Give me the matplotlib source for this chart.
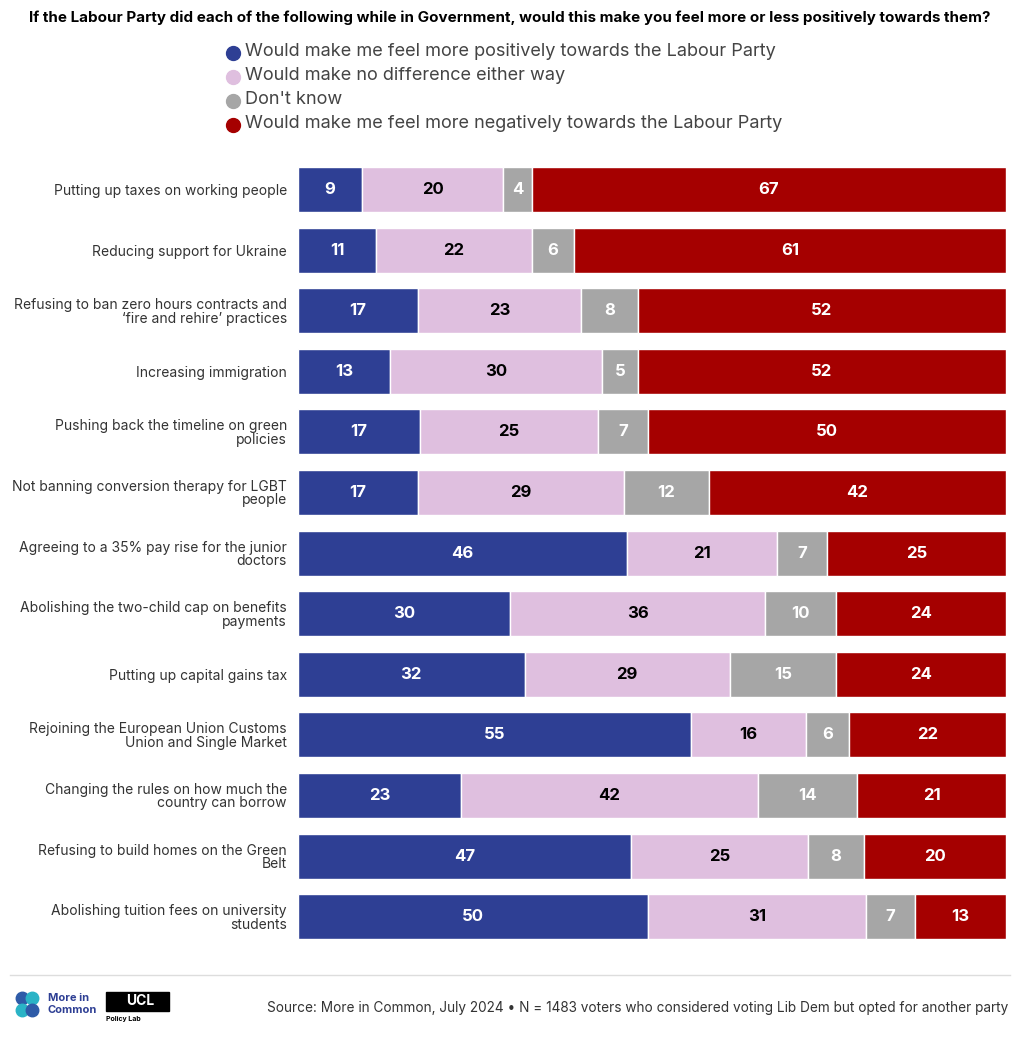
import matplotlib
matplotlib.use("Agg")
import matplotlib.pyplot as plt
from matplotlib.lines import Line2D
from matplotlib.patches import Rectangle
import numpy as np

plt.rcParams['font.family'] = ['Inter', 'DejaVu Sans']

categories = [
    "Putting up taxes on working people",
    "Reducing support for Ukraine",
    "Refusing to ban zero hours contracts and\n\u2018fire and rehire\u2019 practices",
    "Increasing immigration",
    "Pushing back the timeline on green\npolicies",
    "Not banning conversion therapy for LGBT\npeople",
    "Agreeing to a 35% pay rise for the junior\ndoctors",
    "Abolishing the two-child cap on benefits\npayments",
    "Putting up capital gains tax",
    "Rejoining the European Union Customs\nUnion and Single Market",
    "Changing the rules on how much the\ncountry can borrow",
    "Refusing to build homes on the Green\nBelt",
    "Abolishing tuition fees on university\nstudents",
]
series_names = [
    "Would make me feel more positively towards the Labour Party",
    "Would make no difference either way",
    "Don't know",
    "Would make me feel more negatively towards the Labour Party",
]
positive = [9, 11, 17, 13, 17, 17, 46, 30, 32, 55, 23, 47, 50]
no_diff = [20, 22, 23, 30, 25, 29, 21, 36, 29, 16, 42, 25, 31]
dont_know = [4, 6, 8, 5, 7, 12, 7, 10, 15, 6, 14, 8, 7]
negative = [67, 61, 52, 52, 50, 42, 25, 24, 24, 22, 21, 20, 13]

colors = ["#2E3F94", "#DFBFDF", "#A6A6A6", "#A50000"]
text_colors = ["white", "black", "white", "white"]

W, H = 1020, 1042
fig = plt.figure(figsize=(W / 100, H / 100), dpi=100)

ax = fig.add_axes([298 / W, 1 - 947 / H, (1006 - 298) / W, 787.8 / H])
data = np.array([positive, no_diff, dont_know, negative], dtype=float)
totals = data.sum(axis=0)
y = np.arange(len(categories))
left = np.zeros(len(categories))
bar_h = 45 / 60.6
for i in range(4):
    widths = data[i] / totals * 100
    ax.barh(y, widths, left=left, height=bar_h, color=colors[i],
            edgecolor="white", linewidth=1.0)
    for j in range(len(categories)):
        ax.text(left[j] + widths[j] / 2, y[j], f"{int(data[i][j])}",
                ha="center", va="center", fontsize=12, fontweight="bold",
                color=text_colors[i])
    left += widths

ax.set_xlim(0, 100)
ax.set_ylim(len(categories) - 0.5, -0.5)
ax.set_yticks(y)
ax.set_yticklabels(categories, fontsize=10.0, color="#333333", linespacing=0.95)
ax.tick_params(axis="y", length=0, pad=8)
ax.set_xticks([])
for s in ax.spines.values():
    s.set_visible(False)

# Title
fig.text(0.5, 1 - 18 / H,
         "If the Labour Party did each of the following while in Government, would this make you feel more or less positively towards them?",
         ha="center", va="center", fontsize=10.9, fontweight="bold", color="black")

# Legend
leg_y = [52, 76, 100, 124]
for i in range(4):
    fig.add_artist(Line2D([233 / W], [1 - (leg_y[i] + 1) / H], marker="o",
                          markersize=10, color=colors[i], linestyle="none",
                          transform=fig.transFigure))
    fig.text(245 / W, 1 - leg_y[i] / H, series_names[i], ha="left", va="center",
             fontsize=13.05, color="#444444")

# Footer line
fig.add_artist(Line2D([10 / W, 1010 / W], [1 - 975 / H, 1 - 975 / H],
                      color="#DDDDDD", linewidth=1, transform=fig.transFigure))

# Logos (text-based)
for (cx, cy, c) in [(22, 998, "#2E5BA8"), (32, 998, "#2AB3C6"), (22, 1010, "#2AB3C6"), (32, 1010, "#2E5BA8")]:
    fig.add_artist(Line2D([cx / W], [1 - cy / H], marker="o", markersize=9,
                          color=c, linestyle="none", transform=fig.transFigure))
fig.text(48 / W, 1 - 998 / H, "More in", ha="left", va="center",
         fontsize=8, fontweight="bold", color="#2E3F94")
fig.text(48 / W, 1 - 1010 / H, "Common", ha="left", va="center",
         fontsize=8, fontweight="bold", color="#2E3F94")
fig.add_artist(Rectangle((106 / W, 1 - 1011 / H), 63 / W, 19 / H,
                         color="black", transform=fig.transFigure))
fig.text(140 / W, 1 - 1001 / H, "UCL", ha="center", va="center",
         fontsize=10, fontweight="bold", color="white")
fig.text(106 / W, 1 - 1019 / H, "Policy Lab", ha="left", va="center",
         fontsize=5, fontweight="bold", color="black")

fig.text(1008 / W, 1 - 1008 / H,
         "Source: More in Common, July 2024 \u2022 N = 1483 voters who considered voting Lib Dem but opted for another party",
         ha="right", va="center", fontsize=9.8, color="#333333")

fig.savefig("out.png", dpi=100)
